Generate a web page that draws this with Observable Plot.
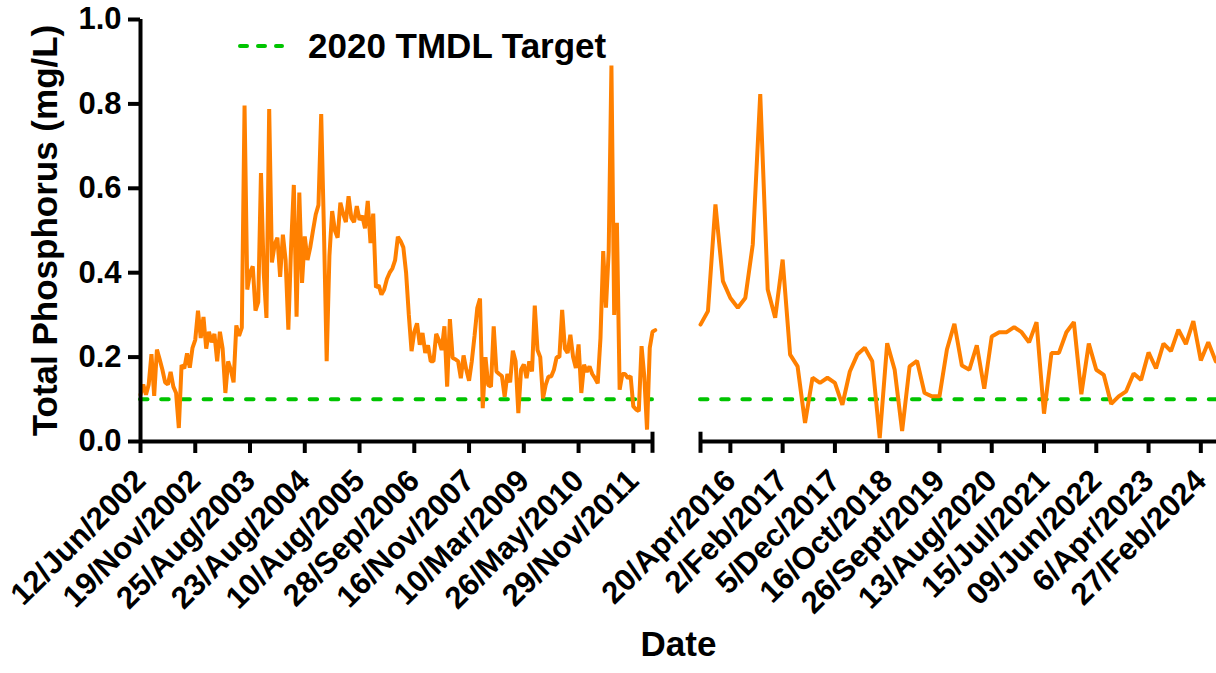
<!DOCTYPE html>
<html><head><meta charset="utf-8">
<script src="https://cdn.jsdelivr.net/npm/d3@7"></script>
<script src="https://cdn.jsdelivr.net/npm/@observablehq/plot@0.6"></script>
<style>
html,body{margin:0;padding:0;background:#fff;}
#wrap{position:relative;width:1216px;height:673px;font-family:"Liberation Sans",Arial,sans-serif;}
#wrap > svg{position:absolute;top:0;}
#legend{position:absolute;left:236px;top:26px;display:flex;align-items:center;font-weight:bold;font-size:35px;color:#000;line-height:40px;z-index:2;}
</style></head><body><div id="wrap"><div id="legend"><svg width="50" height="12"><line x1="4" y1="6" x2="46" y2="6" stroke="#00c400" stroke-width="4" stroke-dasharray="7,11" stroke-linecap="round"/></svg><span id="legendText" style="margin-left:22px"></span></div></div>
<script>
// Left segment (2002–2011): one value per sample, in order
const leftValues = [
0.111,0.135,0.111,0.135,0.207,0.108,0.218,0.195,0.17,0.14,
0.135,0.165,0.13,0.115,0.032,0.181,0.173,0.209,0.175,0.222,
0.241,0.31,0.245,0.295,0.22,0.26,0.235,0.255,0.19,0.26,
0.22,0.115,0.19,0.17,0.14,0.275,0.25,0.27,0.796,0.36,
0.40,0.415,0.31,0.33,0.636,0.40,0.293,0.788,0.424,0.467,
0.483,0.39,0.49,0.43,0.265,0.462,0.608,0.296,0.59,0.376,
0.486,0.43,0.46,0.50,0.538,0.56,0.776,0.5,0.19,0.44,
0.546,0.50,0.483,0.566,0.54,0.52,0.581,0.53,0.52,0.558,
0.525,0.535,0.505,0.57,0.47,0.54,0.365,0.37,0.348,0.36,
0.385,0.40,0.41,0.43,0.485,0.475,0.46,0.40,0.30,0.214,
0.26,0.28,0.229,0.257,0.21,0.228,0.19,0.19,0.255,0.24,
0.217,0.273,0.13,0.29,0.198,0.195,0.19,0.15,0.204,0.17,
0.144,0.19,0.25,0.316,0.339,0.079,0.2,0.134,0.13,0.273,
0.166,0.16,0.155,0.106,0.16,0.14,0.215,0.19,0.067,0.17,
0.183,0.15,0.19,0.166,0.322,0.217,0.2,0.102,0.134,0.154,
0.154,0.17,0.2,0.2,0.312,0.22,0.21,0.253,0.2,0.174,
0.23,0.115,0.182,0.165,0.178,0.16,0.15,0.138,0.245,0.451,
0.317,0.451,0.891,0.30,0.518,0.123,0.16,0.16,0.15,0.155,
0.083,0.076,0.072,0.226,0.154,0.028,0.222,0.26,0.264
];
// Right segment (2016–2024)
const rightValues = [
0.277,0.309,0.562,0.38,0.34,0.317,0.34,0.467,0.823,0.36,
0.293,0.431,0.206,0.178,0.044,0.151,0.139,0.151,0.139,0.087,
0.166,0.206,0.222,0.19,0.008,0.233,0.17,0.025,0.178,0.191,
0.115,0.107,0.107,0.218,0.279,0.18,0.17,0.228,0.125,0.249,
0.259,0.259,0.271,0.259,0.235,0.283,0.066,0.21,0.21,0.259,
0.283,0.112,0.232,0.17,0.158,0.089,0.107,0.119,0.161,0.146,
0.211,0.173,0.232,0.214,0.265,0.231,0.285,0.192,0.235,0.19
];
const leftTickIndex = [0,20,40,60,80,100,120,140,160,180];
const leftTickLabels = ["12/Jun/2002","19/Nov/2002","25/Aug/2003","23/Aug/2004","10/Aug/2005","28/Sep/2006","16/Nov/2007","10/Mar/2009","26/May/2010","29/Nov/2011"];
const rightTickIndex = [4,11,18,25,32,39,46,53,60,67];
const rightTickLabels = ["20/Apr/2016","2/Feb/2017","5/Dec/2017","16/Oct/2018","26/Sept/2019","13/Aug/2020","15/Jul/2021","09/Jun/2022","6/Apr/2023","27/Feb/2024"];
const yTicks = [0,0.2,0.4,0.6,0.8,1.0];
const target = 0.1;
const targetLabel = "2020 TMDL Target";
const yLabel = "Total Phosphorus (mg/L)";
const xLabel = "Date";

// axis extents (sample-index units)
const LEFT_MAX = 187;
const RIGHT_MAX = 69.1;

document.getElementById("legendText").textContent = targetLabel;

const leftData = leftValues.map((v, i) => ({x: i, v}));
const rightData = rightValues.map((v, j) => ({x: j, v}));
const leftLab = new Map(leftTickIndex.map((p, k) => [p, leftTickLabels[k]]));
const rightLab = new Map(rightTickIndex.map((p, k) => [p, rightTickLabels[k]]));

const FONT = "'Liberation Sans', Arial, sans-serif";
const dash = {stroke: "#00c400", strokeWidth: 4, strokeDasharray: "7.5,13.7", strokeLinecap: "round"};
const orange = {stroke: "#ff8000", strokeWidth: 4, strokeLinejoin: "bevel"};
const black = {stroke: "#000", strokeWidth: 4};
const common = {
  height: 673, marginTop: 19, marginBottom: 232,
  style: {fontFamily: FONT, fontWeight: "bold", fontSize: "31px", color: "#000", background: "transparent", overflow: "visible"}
};
const xAxisOpts = {tickSize: 12, tickPadding: 22, tickRotate: -45, strokeWidth: 4, label: null, fontSize: 31, fontWeight: "bold"};

const leftChart = Plot.plot({
  ...common,
  width: 660, marginLeft: 140, marginRight: 8,
  x: {domain: [0, LEFT_MAX]},
  y: {domain: [0, 1]},
  marks: [
    Plot.ruleY([target], {x1: 0, x2: LEFT_MAX, ...dash}),
    Plot.line(leftData, {x: "x", y: "v", ...orange}),
    Plot.ruleX([0], {y1: 0, y2: 1, ...black}),
    Plot.ruleY([0], {x1: 0, x2: LEFT_MAX, ...black}),
    Plot.ruleX([LEFT_MAX], {y1: -0.028, y2: 0.022, ...black}),
    Plot.axisY({ticks: yTicks, tickFormat: d => d.toFixed(1), tickSize: 12, tickPadding: 7, strokeWidth: 4, label: null, fontSize: 31, fontWeight: "bold"}),
    Plot.axisX({ticks: leftTickIndex, tickFormat: d => leftLab.get(d), ...xAxisOpts}),
    Plot.text([yLabel], {frameAnchor: "left", rotate: -90, dx: -95, textAnchor: "middle", fontSize: 35, fontWeight: "bold"})
  ]
});

const rightChart = Plot.plot({
  ...common,
  width: 556, marginLeft: 40, marginRight: 0,
  x: {domain: [0, RIGHT_MAX]},
  y: {domain: [0, 1], axis: null},
  marks: [
    Plot.ruleY([target], {x1: 0, x2: RIGHT_MAX, ...dash}),
    Plot.line(rightData, {x: "x", y: "v", ...orange}),
    Plot.ruleY([0], {x1: 0, x2: RIGHT_MAX, ...black}),
    Plot.ruleX([0], {y1: -0.028, y2: 0.022, ...black}),
    Plot.axisX({ticks: rightTickIndex, tickFormat: d => rightLab.get(d), ...xAxisOpts}),
    Plot.text([xLabel], {frameAnchor: "bottom-left", dx: -22, dy: 214, textAnchor: "middle", fontSize: 35, fontWeight: "bold"})
  ]
});
leftChart.style.left = "0px";
rightChart.style.left = "660px";
const wrap = document.getElementById("wrap");
wrap.prepend(rightChart);
wrap.prepend(leftChart);
</script></body></html>
